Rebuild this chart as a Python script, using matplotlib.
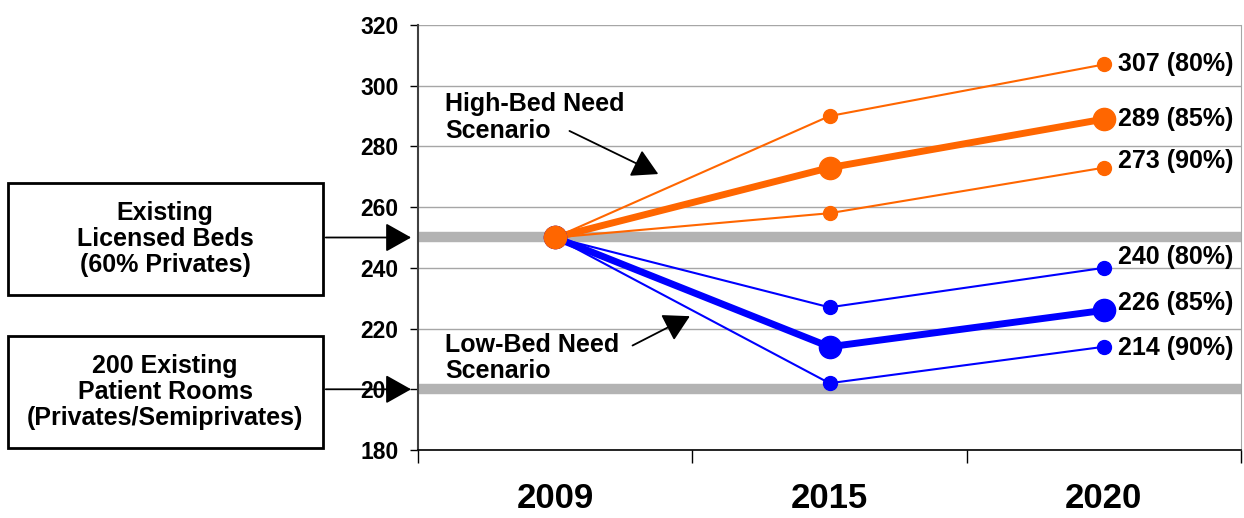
import matplotlib
matplotlib.use('Agg')
import matplotlib.pyplot as plt
from matplotlib.patches import Rectangle

plt.rcParams['font.family'] = ['Liberation Sans', 'DejaVu Sans']
plt.rcParams['font.weight'] = 'bold'

years = ['2009', '2015', '2020']
high_80 = [250, 290, 307]
high_85 = [250, 273, 289]
high_90 = [250, 258, 273]
low_80 = [250, 227, 240]
low_85 = [250, 214, 226]
low_90 = [250, 202, 214]
occupancy = ['80%', '85%', '90%']
licensed_beds = 250
patient_rooms = 200

ORANGE = '#ff6600'
BLUE = '#0000ff'
GRAY = '#b3b3b3'

fig = plt.figure(figsize=(12.44, 5.18), dpi=100)
ax = fig.add_axes([418 / 1244, 68 / 518, 823 / 1244, 425 / 518])

xs = [i + 0.5 for i in range(len(years))]

# reference lines
ax.axhline(licensed_beds, color=GRAY, lw=7.5, zorder=2)
ax.axhline(patient_rooms, color=GRAY, lw=7.5, zorder=2)

series = [
    (high_80, ORANGE, False), (high_90, ORANGE, False), (high_85, ORANGE, True),
    (low_80, BLUE, False), (low_90, BLUE, False), (low_85, BLUE, True),
]
for vals, col, thick in series:
    ax.plot(xs, vals, color=col, lw=5 if thick else 1.5,
            marker='o', ms=16 if thick else 10, mec=col, mfc=col, zorder=4)

# 2009 common start point
ax.plot(xs[0], high_85[0], 'o', color=ORANGE, ms=16, zorder=6)

# end labels (value, occupancy index, vertical nudge in points)
ends = [(high_80, 0, 0), (high_85, 1, 0), (high_90, 2, 5),
        (low_80, 0, 8), (low_85, 1, 5), (low_90, 2, -1)]
for vals, k, dy in ends:
    ax.annotate(f'{vals[-1]} ({occupancy[k]})', xy=(xs[-1], vals[-1]),
                xytext=(10, dy), textcoords='offset points',
                ha='left', va='center', fontsize=18, fontweight='bold',
                zorder=7)

ax.set_xlim(0, 3)
ax.set_ylim(180, 320)
ax.set_yticks(range(180, 321, 20))
ax.set_xticks([0, 1, 2, 3])
ax.set_xticklabels([])
ax.set_xticks(xs, minor=True)
ax.set_xticklabels(years, minor=True, fontsize=25, fontweight='bold')
ax.tick_params(axis='x', which='major', length=9, width=1, direction='out')
ax.tick_params(axis='x', which='minor', length=0, pad=23)
ax.tick_params(axis='y', length=6, width=1, pad=8, labelsize=16.5)
for lab in ax.get_yticklabels():
    lab.set_fontweight('bold')

ax.grid(axis='y', color='#a6a6a6', lw=1, zorder=1)
ax.spines['top'].set_visible(False)
ax.spines['right'].set_color('#a6a6a6')
ax.spines['left'].set_color('#404040')
ax.spines['left'].set_linewidth(1.5)
ax.spines['bottom'].set_linewidth(1.2)

# scenario annotations
arrow = dict(arrowstyle='-|>,head_length=0.8,head_width=0.45',
             mutation_scale=20, color='black', lw=1.3)
ax.text(0.1, 289.5, 'High-Bed Need\nScenario', ha='left', va='center',
        fontsize=18, fontweight='bold', linespacing=1.15, zorder=7)
ax.annotate('', xy=(0.885, 270.5), xytext=(0.543, 285.5), arrowprops=arrow,
            zorder=7)
ax.text(0.1, 210.3, 'Low-Bed Need\nScenario', ha='left', va='center',
        fontsize=18, fontweight='bold', linespacing=1.15, zorder=7)
ax.annotate('', xy=(1.0, 224.5), xytext=(0.773, 214), arrowprops=arrow,
            zorder=7)

# boxes on the left
boxes = [('Existing\nLicensed Beds\n(60% Privates)', licensed_beds, 183, 295),
         ('200 Existing\nPatient Rooms\n(Privates/Semiprivates)', patient_rooms, 336, 448)]
for txt, yv, top, bot in boxes:
    fig.add_artist(Rectangle((8 / 1244, (518 - bot) / 518), 315 / 1244,
                             (bot - top) / 518, transform=fig.transFigure,
                             fill=False, lw=2, ec='black'))
    fig.text(165 / 1244, (518 - (top + bot) / 2) / 518, txt, ha='center',
             va='center', fontsize=18, fontweight='bold', linespacing=1.12)
    ax.annotate('', xy=(-0.005, yv), xycoords=('axes fraction', 'data'),
                xytext=(323, yv), textcoords=('figure pixels', 'data'),
                arrowprops=arrow, annotation_clip=False)

fig.savefig('out.png', dpi=100)
